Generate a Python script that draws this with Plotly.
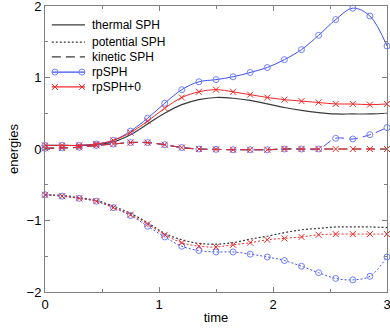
import plotly.graph_objects as go

# time samples (every 0.15)
time = [round(0.15 * i, 2) for i in range(21)]

# SPH (black)
thermal_sph = [0.05, 0.05, 0.05, 0.06, 0.10, 0.20, 0.35, 0.50, 0.62, 0.69, 0.72, 0.71,
               0.68, 0.63, 0.58, 0.54, 0.51, 0.49, 0.49, 0.49, 0.50]
potential_sph = [-0.64, -0.65, -0.68, -0.72, -0.80, -0.90, -1.03, -1.18, -1.27, -1.32, -1.33,
                 -1.31, -1.26, -1.22, -1.17, -1.13, -1.11, -1.09, -1.09, -1.09, -1.10]
kinetic_sph = [0.01, 0.015, 0.025, 0.05, 0.07, 0.09, 0.09, 0.06, 0.02, 0.0, -0.005, -0.01,
               -0.01, -0.01, 0.0, 0.0, 0.0, 0.0, 0.0, 0.0, 0.0]

# rpSPH (blue)
thermal_rp = [0.05, 0.05, 0.05, 0.07, 0.12, 0.25, 0.43, 0.64, 0.83, 0.94, 0.97, 1.01,
              1.07, 1.14, 1.25, 1.39, 1.59, 1.81, 1.97, 1.86, 1.44]
potential_rp = [-0.64, -0.66, -0.69, -0.73, -0.82, -0.93, -1.08, -1.23, -1.36, -1.42, -1.44,
                -1.44, -1.47, -1.51, -1.56, -1.64, -1.73, -1.81, -1.83, -1.78, -1.51]
kinetic_rp = [0.01, 0.015, 0.025, 0.05, 0.07, 0.09, 0.09, 0.06, 0.02, 0.0, -0.005, -0.01,
              -0.01, -0.01, 0.0, 0.0, 0.0, 0.15, 0.14, 0.20, 0.30]

# rpSPH+0 (red)
thermal_rp0 = [0.05, 0.05, 0.05, 0.07, 0.12, 0.23, 0.39, 0.57, 0.72, 0.80, 0.83, 0.80,
               0.76, 0.72, 0.69, 0.67, 0.65, 0.63, 0.63, 0.62, 0.63]
potential_rp0 = [-0.64, -0.66, -0.69, -0.73, -0.82, -0.92, -1.05, -1.20, -1.31, -1.36, -1.37,
                 -1.34, -1.31, -1.27, -1.25, -1.23, -1.20, -1.19, -1.19, -1.19, -1.19]
kinetic_rp0 = [0.01, 0.015, 0.025, 0.05, 0.07, 0.09, 0.09, 0.06, 0.02, 0.0, -0.005, -0.01,
               -0.01, -0.01, 0.0, 0.0, 0.0, 0.0, 0.0, 0.0, 0.0]

legend_labels = ['thermal SPH', 'potential SPH', 'kinetic SPH', 'rpSPH', 'rpSPH+0']

BLACK = '#3a3a3a'
BLUE = '#3d50f0'
BLUE_M = '#7080ff'
RED = '#f02828'
DOT = '2px,2px'
DASH = '9px,5px'

fig = go.Figure()

# black SPH curves
for y, dash in [(thermal_sph, 'solid'), (potential_sph, DOT), (kinetic_sph, DASH)]:
    fig.add_trace(go.Scatter(
        x=time, y=y, mode='lines', showlegend=False,
        line=dict(color=BLACK, width=1.2, dash=dash, shape='spline'),
    ))

# rpSPH and rpSPH+0 with markers
for series, color, mcolor, symbol in [
        ((thermal_rp, potential_rp, kinetic_rp), BLUE, BLUE_M, 'circle-open'),
        ((thermal_rp0, potential_rp0, kinetic_rp0), RED, RED, 'x-thin-open')]:
    for y, dash in zip(series, ['solid', DOT, DASH]):
        fig.add_trace(go.Scatter(
            x=time, y=y, mode='lines+markers', showlegend=False,
            line=dict(color=color, width=1, dash=dash, shape='spline'),
            marker=dict(symbol=symbol, size=6, color=mcolor,
                        line=dict(color=mcolor, width=1)),
            cliponaxis=False,
        ))

# hand-made legend (gnuplot style) on an overlay axis spanning the plot area
leg_rows = [0.934, 0.874, 0.822, 0.769, 0.717]
leg_styles = [(BLACK, 'solid', None), (BLACK, DOT, None), (BLACK, DASH, None),
              (BLUE, 'solid', 'circle-open'), (RED, 'solid', 'x-thin-open')]
for label, yy, (color, dash, symbol) in zip(legend_labels, leg_rows, leg_styles):
    fig.add_trace(go.Scatter(
        x=[0.020, 0.117], y=[yy, yy], mode='lines', showlegend=False,
        xaxis='x2', yaxis='y2', hoverinfo='skip',
        line=dict(color=color, width=1.2, dash=dash),
    ))
    if symbol:
        mc = BLUE_M if color == BLUE else color
        fig.add_trace(go.Scatter(
            x=[0.029, 0.108], y=[yy, yy], mode='markers', showlegend=False,
            xaxis='x2', yaxis='y2', hoverinfo='skip',
            marker=dict(symbol=symbol, size=6, color=mc, line=dict(color=mc, width=1)),
        ))
    fig.add_annotation(x=0.132, y=yy, xref='x2', yref='y2', text=label,
                       showarrow=False, xanchor='left', yanchor='middle',
                       font=dict(size=12, color='black'))

axis_style = dict(
    showline=True, linecolor='#808080', linewidth=1, mirror='ticks',
    ticks='inside', ticklen=5, tickcolor='#808080',
    showgrid=False, zeroline=False,
    tickfont=dict(size=13, color='black'),
    ticklabeloverflow='allow',
    minor=dict(ticks='inside', ticklen=3, tickcolor='#808080', dtick=0.5),
    automargin=False,
)

fig.update_xaxes(range=[0, 3], dtick=1, title=dict(text='time', standoff=2,
                 font=dict(size=13)), **axis_style)
fig.update_yaxes(range=[-2, 2], dtick=1, title=dict(text='energies', standoff=5,
                 font=dict(size=13)), **axis_style)

fig.update_layout(
    width=390, height=332,
    margin=dict(l=45, r=3, t=6, b=40),
    paper_bgcolor='white', plot_bgcolor='white',
    font=dict(family='Liberation Sans, Arial, sans-serif', size=12, color='black'),
    showlegend=False,
    xaxis2=dict(overlaying='x', range=[0, 1], visible=False),
    yaxis2=dict(overlaying='y', range=[0, 1], visible=False),
)

# drop the default 8px page margin so the figure sits at the window corner
fig.write_html("out.html", config={'displayModeBar': False},
               post_script="document.body.style.margin = '0';")
